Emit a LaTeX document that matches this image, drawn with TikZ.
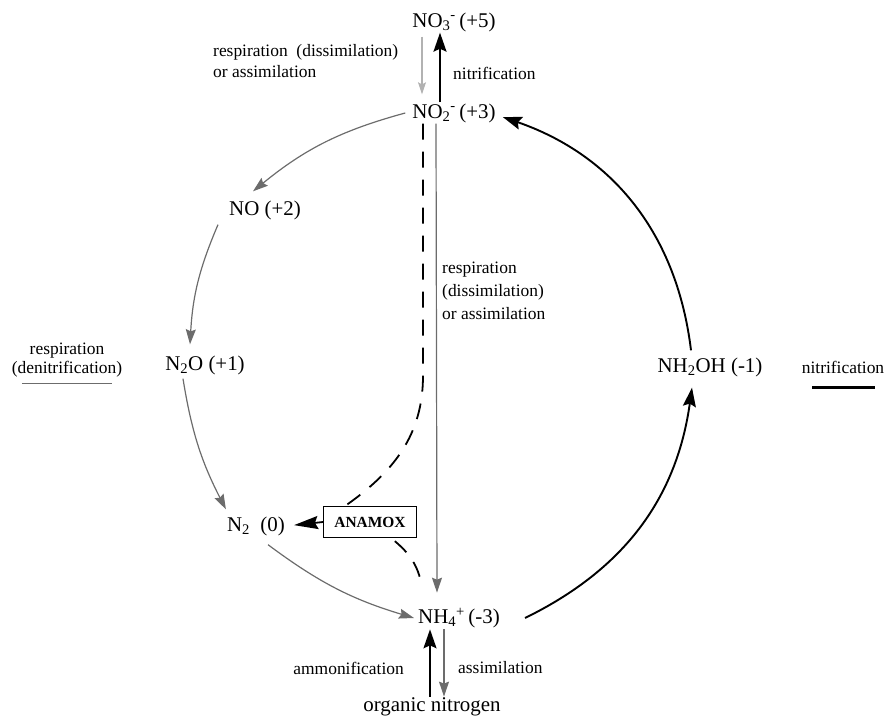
\documentclass[tikz,border=0pt]{standalone}
\usepackage{fontspec}
\setmainfont{Liberation Serif}
\usetikzlibrary{arrows.meta}
\begin{document}
\begin{tikzpicture}[x=1bp,y=1bp,
  lbl/.style={font=\fontsize{21}{24}\selectfont, inner sep=1bp},
  sml/.style={font=\fontsize{17.5}{20}\selectfont, inner sep=1bp},
  blk/.style={line width=1.9bp, -{Stealth[length=19bp,width=13bp,inset=3bp]}},
  gr/.style={draw=gray!85!black, line width=1.2bp, -{Stealth[length=15bp,width=10bp,inset=2bp,fill=gray!85!black]}},
  dsh/.style={line width=1.8bp, dash pattern=on 16bp off 12bp},
  anabox/.style={draw, line width=0.9bp, font=\bfseries\fontsize{15.5}{18}\selectfont, minimum width=93bp, minimum height=31bp, inner sep=2bp}
]
\useasboundingbox (0,0) rectangle (886,-717);
% species
\node[lbl] (no3) at (454,-22) {NO\textsubscript{3}\textsuperscript{-}\,(+5)};
\node[lbl] (no2) at (454,-113) {NO\textsubscript{2}\textsuperscript{-}\,(+3)};
\node[lbl] (no) at (265,-210) {NO (+2)};
\node[lbl] (n2o) at (205,-365) {N\textsubscript{2}O (+1)};
\node[lbl] (n2) at (256,-526) {N\textsubscript{2}\ \ (0)};
\node[anabox] (ana) at (370,-522) {ANAMOX};
\node[lbl] (nh4) at (459,-618) {NH\textsubscript{4}\textsuperscript{+}\,(-3)};
\node[lbl] (nh2oh) at (710,-367) {NH\textsubscript{2}OH (-1)};
\node[lbl] (org) at (432,-707) {organic nitrogen};
% labels
\node[sml, anchor=west] (lresp) at (212,-52) {respiration\ \ (dissimilation)};
\node[sml, anchor=west] (lor) at (212,-72) {or assimilation};
\node[sml, anchor=west] (lnit) at (452,-73) {nitrification};
\node[sml, anchor=west, align=left, font=\fontsize{17.5}{23}\selectfont] (lmid) at (441,-291) {respiration\\(dissimilation)\\or assimilation};
\node[sml, anchor=east] (lamm) at (405,-668) {ammonification};
\node[sml, anchor=west] (lass) at (457,-668) {assimilation};
\node[sml, align=center, font=\fontsize{17.5}{19}\selectfont] (lden) at (67,-360) {respiration\\(denitrification)};
\node[sml] (lnit2) at (843,-367) {nitrification};
% legend lines
\draw[gray!85!black, line width=1.5bp] ([xshift=-45bp,yshift=-5bp]lden.south) -- ([xshift=45bp,yshift=-5bp]lden.south);
\draw[line width=3bp] ([xshift=-31bp,yshift=-13bp]lnit2.south) -- ([xshift=32bp,yshift=-13bp]lnit2.south);
% NO3 <-> NO2
\draw[blk] ([xshift=-14bp]no2.north) -- ([xshift=-14bp]no3.south);
\draw[gr, draw=gray!60, -{Stealth[length=12bp,width=8bp,inset=2bp,fill=gray!60]}, shorten >=8bp, shorten <=4bp] ([xshift=-32bp]no3.south) -- ([xshift=-32bp]no2.north);
% denitrification arcs
\draw[gr] ([xshift=-6bp]no2.west) to[bend right=12] ([xshift=-12bp,yshift=8bp]no.north);
\draw[gr] ([xshift=-10bp,yshift=-4bp]no.south west) to[bend right=10] ([xshift=-15bp,yshift=10bp]n2o.north);
\draw[gr] ([xshift=-22bp,yshift=-3bp]n2o.south) to[bend right=9] ([yshift=6bp]n2.north west);
\draw[gr] ([xshift=12bp,yshift=-8bp]n2.south) to[bend right=10] ([xshift=-3bp]nh4.west);
% straight respiration NO2 -> NH4
\draw[gr] ([xshift=-18bp]no2.south) -- ([xshift=-22bp,yshift=14bp]nh4.north);
% anammox
\draw[dsh] ([xshift=-31bp]no2.south) -- ([xshift=-31bp]no2.south |- n2o.south) to[out=-90,in=35] ([xshift=-25bp]ana.north);
\draw[dsh, shorten <=5bp] ([xshift=21bp]ana.south) to[out=-40,in=100] ([xshift=-37bp,yshift=20bp]nh4.north);
\draw[line width=1.8bp, -{Stealth[length=24bp,width=13bp,inset=3bp]}, shorten >=8bp] (ana.west) -- (n2.east);
% nitrification arcs
\draw[blk] ([xshift=24bp]nh4.east) to[bend right=28] ([xshift=-18bp,yshift=-10bp]nh2oh.south);
\draw[blk] ([xshift=-19bp,yshift=6bp]nh2oh.north) to[bend right=32] ([xshift=6bp,yshift=-4bp]no2.east);
% NH4 <-> organic N
\draw[blk] ([xshift=-2bp]org.north) -- ([xshift=-2bp]org.north |- nh4.south);
\draw[gr] ([xshift=12bp]org.north |- nh4.south) -- ([xshift=12bp]org.north);
\end{tikzpicture}
\end{document}
